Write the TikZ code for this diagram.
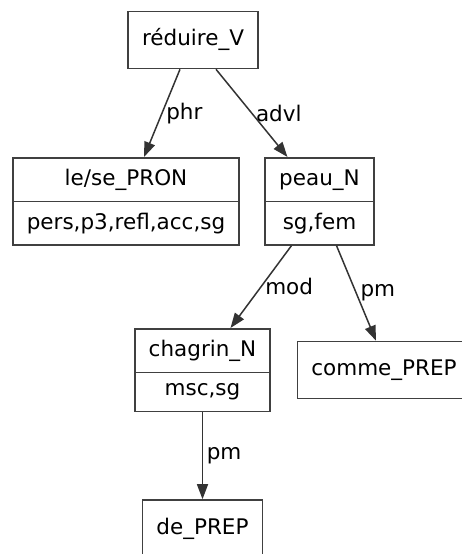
\documentclass[tikz,border=0pt]{standalone}
\usepackage{fontspec}
\setmainfont{DejaVu Sans}
\usetikzlibrary{arrows.meta,shapes.multipart}
\tikzset{
  box/.style={draw=black!75,line width=1.6pt,inner xsep=14pt,inner ysep=0pt,
    minimum height=57pt,text height=16pt,text depth=5pt,
    font=\fontsize{21.5}{26}\selectfont},
  rec/.style={rectangle split,rectangle split parts=2,draw=black!75,
    line width=1.6pt,inner xsep=14pt,inner ysep=10.5pt,
    text height=16pt,text depth=5pt,font=\fontsize{21.5}{26}\selectfont},
  dep/.style={draw=black!80,line width=1.5pt,
    -{Triangle[length=15pt,width=11pt]}},
  lab/.style={midway,right,inner sep=3.5pt,font=\fontsize{21.5}{26}\selectfont}
}
\begin{document}
\begin{tikzpicture}
   \begin{scope}[x=1pt,y=-1pt]
   \useasboundingbox (0,0) rectangle (462,554);
   \node[box] (reduire) at (193,40) {réduire\_V};
   \node[rec,anchor=north] (pron) at (126,157) {le/se\_PRON\nodepart{two}pers,p3,refl,acc,sg};
   \node[rec,anchor=north] (peau) at (319.5,157) {peau\_N\nodepart{two}sg,fem};
   \node[rec,anchor=north] (chagrin) at (202.5,328) {chagrin\_N\nodepart{two}msc,sg};
   \node[box] (comme) at (384,370) {comme\_PREP};
   \node[box] (de) at (202.5,528.5) {de\_PREP};
   \draw[dep] ([xshift=-13pt]reduire.south) -- ([xshift=18pt]pron.north) node[lab] {phr};
   \draw[dep] ([xshift=23pt]reduire.south) -- ([xshift=-32pt]peau.north) node[lab] {advl};
   \draw[dep] ([xshift=-28pt]peau.south) -- ([xshift=28pt]chagrin.north) node[lab] {mod};
   \draw[dep] ([xshift=17pt]peau.south) -- ([xshift=-8pt]comme.north) node[lab] {pm};
   \draw[dep] (chagrin.south) -- (de.north) node[lab] {pm};
   \end{scope}
 \end{tikzpicture}
\end{document}
